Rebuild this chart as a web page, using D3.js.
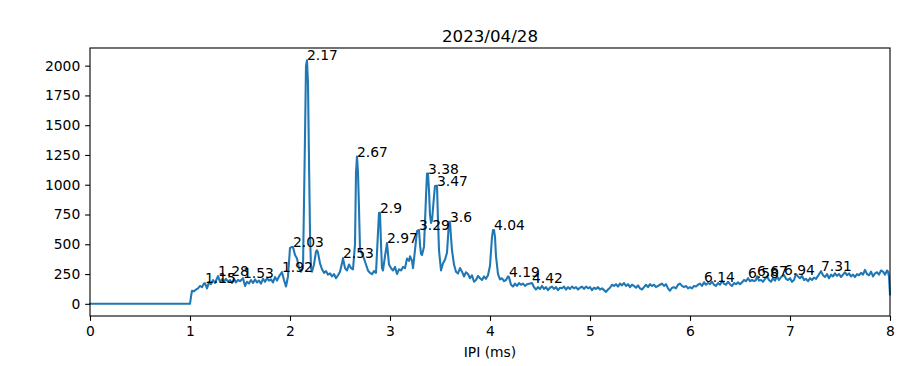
<!DOCTYPE html>
<html><head><meta charset="utf-8">
<script src="https://cdn.jsdelivr.net/npm/d3@7"></script>
<style>body{margin:0;background:#fff}svg{display:block}text{font-family:"DejaVu Sans",sans-serif}</style>
</head><body><svg id="c" width="900" height="366"></svg>
<script>
const title = "2023/04/28";
const xLabel = "IPI (ms)";
const xTicks = [0,1,2,3,4,5,6,7,8];
const yTicks = [0,250,500,750,1000,1250,1500,1750,2000];
const ipi = [0,1.00,1.01,1.02,1.04,1.06,1.08,1.10,1.12,1.14,1.15,1.17,1.19,1.21,1.23,1.25,1.28,1.30,1.32,1.34,1.36,1.38,1.40,1.42,1.44,1.46,1.48,1.50,1.53,1.55,1.57,1.59,1.61,1.63,1.65,1.67,1.69,1.71,1.73,1.75,1.77,1.79,1.81,1.83,1.85,1.87,1.89,1.92,1.94,1.96,1.98,2.00,2.02,2.03,2.05,2.07,2.09,2.11,2.13,2.15,2.16,2.17,2.18,2.19,2.20,2.21,2.22,2.24,2.26,2.27,2.28,2.30,2.32,2.34,2.36,2.38,2.40,2.42,2.44,2.46,2.48,2.50,2.52,2.53,2.55,2.57,2.59,2.61,2.63,2.65,2.66,2.67,2.68,2.69,2.70,2.72,2.74,2.76,2.78,2.80,2.82,2.84,2.86,2.88,2.89,2.90,2.91,2.92,2.93,2.95,2.97,2.99,3.01,3.03,3.05,3.07,3.09,3.11,3.13,3.15,3.17,3.19,3.20,3.22,3.23,3.25,3.27,3.29,3.30,3.31,3.32,3.34,3.36,3.37,3.38,3.39,3.40,3.41,3.42,3.44,3.45,3.46,3.47,3.48,3.49,3.51,3.53,3.55,3.57,3.59,3.60,3.61,3.62,3.64,3.66,3.68,3.70,3.72,3.74,3.76,3.78,3.80,3.82,3.84,3.86,3.88,3.90,3.92,3.94,3.96,3.98,4.00,4.02,4.03,4.04,4.05,4.06,4.08,4.10,4.12,4.14,4.16,4.18,4.19,4.21,4.23,4.25,4.27,4.29,4.31,4.33,4.35,4.37,4.40,4.42,4.44,4.46,4.48,4.50,4.52,4.54,4.56,4.58,4.60,4.62,4.64,4.66,4.68,4.70,4.72,4.74,4.76,4.78,4.80,4.82,4.84,4.86,4.88,4.90,4.92,4.94,4.96,4.98,5.00,5.02,5.04,5.06,5.08,5.10,5.12,5.14,5.16,5.18,5.20,5.22,5.24,5.26,5.28,5.30,5.32,5.34,5.36,5.38,5.40,5.42,5.44,5.46,5.48,5.50,5.52,5.54,5.56,5.58,5.60,5.62,5.64,5.66,5.68,5.70,5.72,5.74,5.76,5.78,5.80,5.82,5.84,5.86,5.88,5.90,5.92,5.94,5.96,5.98,6.00,6.02,6.04,6.06,6.08,6.10,6.12,6.14,6.16,6.18,6.20,6.22,6.24,6.26,6.28,6.30,6.32,6.34,6.36,6.38,6.40,6.42,6.44,6.46,6.48,6.50,6.52,6.54,6.56,6.58,6.60,6.62,6.64,6.66,6.67,6.69,6.71,6.73,6.75,6.77,6.79,6.81,6.83,6.85,6.87,6.89,6.91,6.94,6.96,6.98,7.00,7.02,7.04,7.06,7.08,7.10,7.12,7.14,7.16,7.18,7.20,7.22,7.24,7.26,7.28,7.31,7.33,7.35,7.37,7.39,7.41,7.43,7.45,7.47,7.49,7.51,7.53,7.55,7.57,7.59,7.61,7.63,7.65,7.67,7.69,7.71,7.73,7.75,7.77,7.79,7.81,7.83,7.85,7.87,7.89,7.91,7.93,7.95,7.97,7.98,7.99,8.00];
const counts = [0,0,60,110,105,120,130,150,140,170,173,130,180,165,200,175,232,185,205,190,210,185,200,175,210,180,200,190,215,150,185,170,200,175,205,180,195,170,210,185,215,195,205,180,225,195,230,266,200,145,230,470,477,477,410,380,300,270,300,1400,2000,2046,1850,1200,600,300,270,330,440,450,430,340,290,260,275,245,255,230,250,215,240,270,340,384,300,280,330,300,290,500,1100,1236,1100,800,460,420,380,330,280,260,250,275,260,600,764,764,500,300,280,400,510,330,300,280,310,250,290,280,310,300,380,360,400,360,300,450,610,620,500,420,410,480,900,1093,1093,950,750,680,700,900,990,992,992,700,450,280,340,370,430,688,688,560,450,330,270,255,300,270,230,265,250,215,240,185,200,235,215,200,230,210,240,320,560,620,620,560,400,250,205,215,190,200,230,224,160,145,170,150,175,160,170,150,165,170,175,140,120,140,125,150,125,140,115,135,145,125,140,115,135,130,145,120,140,125,145,130,140,120,135,145,125,145,130,140,115,135,125,140,120,130,115,100,120,135,160,150,165,145,170,155,175,150,165,140,160,150,135,155,130,120,140,160,140,165,150,160,140,150,160,170,150,165,130,110,135,140,130,160,170,150,140,150,130,140,130,150,145,160,170,150,181,160,175,165,185,160,150,175,160,190,170,160,185,165,150,175,165,180,165,180,200,190,215,190,200,190,200,232,195,200,185,210,230,200,185,215,195,230,200,225,241,210,200,215,185,200,250,230,215,235,200,210,190,215,200,220,210,235,274,240,225,250,215,245,230,255,235,250,225,245,265,240,255,230,245,225,250,240,260,245,285,250,240,270,230,255,265,245,280,270,245,280,270,230,80];
const peakIpi = [1.15,1.28,1.53,1.92,2.03,2.17,2.53,2.67,2.90,2.97,3.29,3.38,3.47,3.60,4.04,4.19,4.42,6.14,6.58,6.67,6.94,7.31];
const peakLabels = ["1.15","1.28","1.53","1.92","2.03","2.17","2.53","2.67","2.9","2.97","3.29","3.38","3.47","3.6","4.04","4.19","4.42","6.14","6.58","6.67","6.94","7.31"];

const svg = d3.select("#c");
const L=90,R=890,T=48,B=316;
const ymax = d3.max(counts), ymin = d3.min(counts);
const pad = (ymax-ymin)*0.05;
const x = d3.scaleLinear().domain([0,8]).range([L,R]);
const y = d3.scaleLinear().domain([ymin-pad, ymax+pad]).range([B,T]);

const data = ipi.map((v,i)=>({x:v,y:counts[i]}));
svg.append("path").datum(data)
  .attr("d", d3.line().x(d=>x(d.x)).y(d=>y(d.y)))
  .attr("fill","none").attr("stroke","#1f77b4").attr("stroke-width",2.08)
  .attr("stroke-linejoin","round").attr("stroke-linecap","square");

peakIpi.forEach((p,i)=>{
  const idx = ipi.findIndex(v=>Math.abs(v-p)<1e-9);
  svg.append("text").attr("x",x(p)).attr("y",y(counts[idx]))
    .attr("font-size","13.89px").attr("fill","#000").text(peakLabels[i]);
});

const xa = svg.append("g").attr("transform",`translate(0,${B})`)
  .call(d3.axisBottom(x).tickValues(xTicks).tickFormat(d3.format("d")).tickSize(4.86).tickPadding(4.86));
const ya = svg.append("g").attr("transform",`translate(${L},0)`)
  .call(d3.axisLeft(y).tickValues(yTicks).tickFormat(d3.format("d")).tickSize(4.86).tickPadding(4.86));
[xa,ya].forEach(a=>{
  a.select(".domain").remove();
  a.selectAll("line").attr("stroke","#000").attr("stroke-width",1.1);
  a.selectAll("text").attr("font-size","13.89px").attr("fill","#000").style("font-family","DejaVu Sans");
});
svg.append("rect").attr("x",L).attr("y",T).attr("width",R-L).attr("height",B-T)
  .attr("fill","none").attr("stroke","#000").attr("stroke-width",1.1);

svg.append("text").attr("x",(L+R)/2).attr("y",42).attr("text-anchor","middle")
  .attr("font-size","16.67px").text(title);
svg.append("text").attr("x",(L+R)/2).attr("y",357).attr("text-anchor","middle")
  .attr("font-size","13.89px").text(xLabel);
</script></body></html>
